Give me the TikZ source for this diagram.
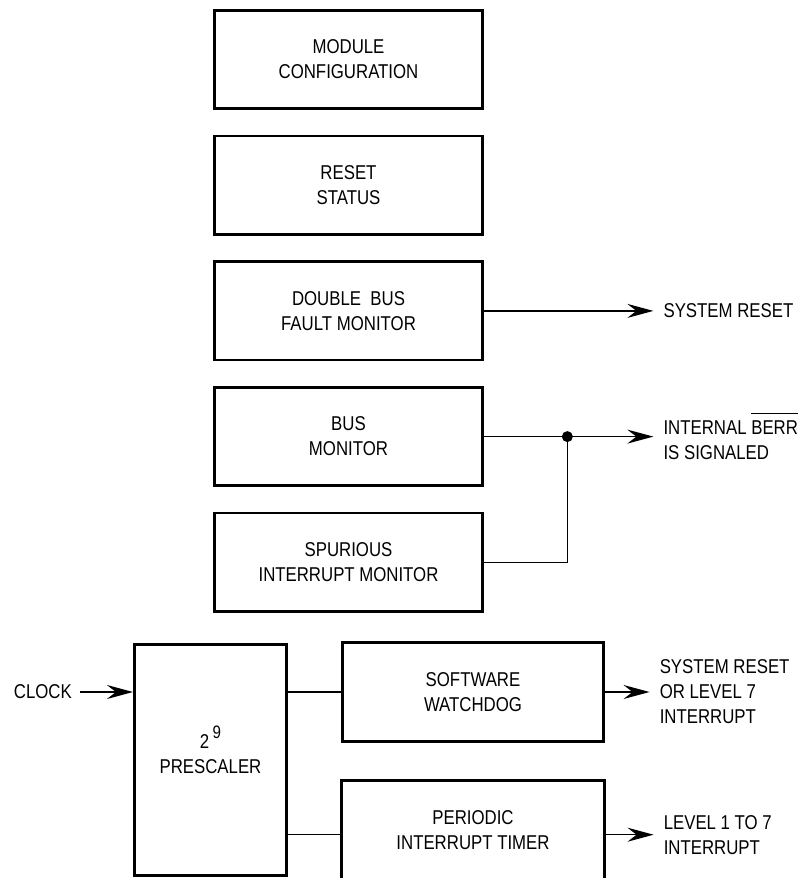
\documentclass[tikz,border=0pt]{standalone}
\usepackage{fontspec}
\setmainfont{Liberation Sans}[FakeStretch=0.84]
\usetikzlibrary{positioning,arrows.meta}
\newcommand{\ovbar}[1]{\vbox{\hrule height 1.2bp\kern 7bp\hbox{#1}}}
\tikzset{
  blk/.style={draw,line width=2.7bp,minimum width=268.4bp,minimum height=98.4bp,
    align=center,inner sep=0pt},
  wire/.style={line width=1.3bp},
  sig/.style={-{Stealth[length=26bp,width=14bp,inset=9bp]},line width=1.3bp},
  outlbl/.style={anchor=west,align=left,inner xsep=10bp,inner ysep=0pt}
}

\begin{document}
\begin{tikzpicture}[x=1bp,y=-1bp,node distance=24.6bp,font=\fontsize{20bp}{25bp}\selectfont]
  \useasboundingbox (0,0) rectangle (801,878);
  % column of monitor blocks
  \node[blk] (cfg) at (348.5,59.5) {MODULE\\CONFIGURATION};
  \node[blk,below=of cfg] (rst) {RESET\\STATUS};
  \node[blk,below=of rst] (dbf) {DOUBLE\ \ BUS\\FAULT MONITOR};
  \node[blk,below=of dbf] (bmon) {BUS\\MONITOR};
  \node[blk,below=of bmon] (spur) {SPURIOUS\\INTERRUPT MONITOR};
  % timer blocks
  \node[blk,minimum width=152.4bp,minimum height=231.4bp] (pre) at (210.5,760)
    {2\,\raisebox{0.5em}{\fontsize{18bp}{18bp}\selectfont 9}\\PRESCALER\\[-5bp]\mbox{}};
  \node[blk,minimum width=261.4bp] (wd) at (473,692) {SOFTWARE\\WATCHDOG};
  \node[blk,minimum width=262.4bp,below=36.6bp of wd] (pit) {PERIODIC\\INTERRUPT TIMER};
  % signal labels
  \node[outlbl,right=169.3bp of dbf] (srst) {SYSTEM RESET};
  \node[outlbl,right=169.3bp of bmon] (berr) {INTERNAL \ovbar{BERR}\\IS SIGNALED};
  \node[outlbl,right=44.5bp of wd] (wdout) {SYSTEM RESET\\OR LEVEL 7\\INTERRUPT};
  \node[outlbl,right=48bp of pit,yshift=-5bp] (pitout) {LEVEL 1 TO 7\\INTERRUPT};
  \node[anchor=east,inner xsep=8bp,inner ysep=0pt] (clk) at (80,692) {CLOCK};
  \coordinate[right=83.3bp of bmon.east] (jn);
  % connectors
  \draw[sig] (dbf.east) -- (srst.west);
  \draw[wire] (bmon.east) -- (jn);
  \draw[wire] (spur.east) -| (jn);
  \draw[sig] (jn) -- (berr.west);
  \fill (jn) circle (5.5bp);
  \draw[sig] (clk) -- (clk -| pre.west);
  \draw[wire] (wd.west -| pre.east) -- (wd.west);
  \draw[wire] (pitout.west -| pre.east) -- (pitout.west -| pit.west);
  \draw[sig] (wd.east) -- (wdout.west);
  \draw[sig] (pitout.west -| pit.east) -- (pitout.west);
\end{tikzpicture}
\end{document}
